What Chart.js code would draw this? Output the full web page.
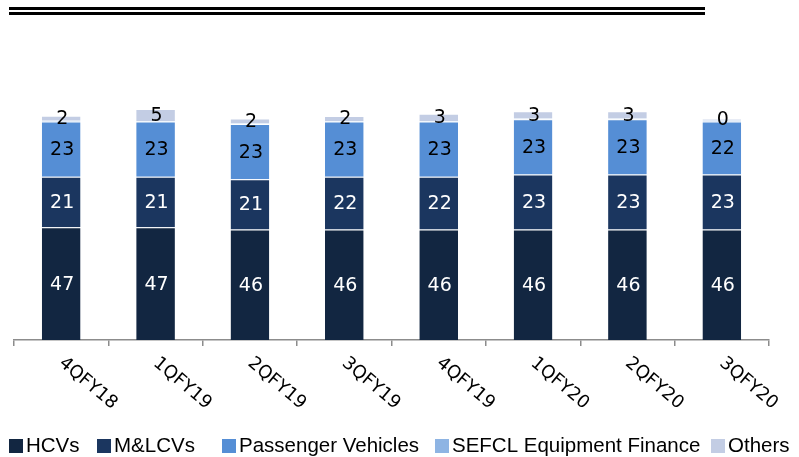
<!DOCTYPE html>
<html>
<head>
<meta charset="utf-8">
<script src="https://cdn.jsdelivr.net/npm/chart.js@4"></script>
<style>
  html, body { margin: 0; padding: 0; background: #fff; }
  #wrap { position: relative; width: 799px; height: 457px; }
  .rule { position: absolute; left: 9px; width: 696px; height: 3px; background: #000; }
</style>
</head>
<body>
<div id="wrap">
  <div class="rule" style="top:7px"></div>
  <div class="rule" style="top:12px"></div>
  <canvas id="chart" width="799" height="457"></canvas>
</div>
<script>
const quarters = ["4QFY18", "1QFY19", "2QFY19", "3QFY19", "4QFY19", "1QFY20", "2QFY20", "3QFY20"];
const hcvs = [47, 47, 46, 46, 46, 46, 46, 46];
const mlcvs = [21, 21, 21, 22, 22, 23, 23, 23];
const passengerVehicles = [23, 23, 23, 23, 23, 23, 23, 22];
const sefclEquipment = [0.4, 0.3, 0.3, 0.3, 0.3, 0.3, 0.3, 0.8];
const others = [2, 5, 2, 2, 3, 3, 3, 0.4];

const colors = ["#122641", "#1b365f", "#558ed5", "#8eb4e3", "#c3cde4"];
const labelColors = ["#ffffff", "#ffffff", "#000000", null, "#000000"];
// legend box left edges, as in the reference
const legendX = [9, 97, 222, 435, 711];

function makeSet(label, data, i) {
  return {
    label: label,
    data: data,
    backgroundColor: colors[i],
    borderColor: "rgba(255,255,255,0.25)",
    borderWidth: { top: 1, left: 0, right: 0, bottom: 0 },
    borderSkipped: false,
    barPercentage: 0.41,
    categoryPercentage: 1.0
  };
}

// segment values written in the middle of each piece
const segmentLabels = {
  id: "segmentLabels",
  afterDatasetsDraw(chart) {
    const ctx = chart.ctx;
    ctx.save();
    ctx.font = "19px 'DejaVu Sans'";
    ctx.textAlign = "center";
    ctx.textBaseline = "middle";
    chart.data.datasets.forEach((ds, i) => {
      if (!labelColors[i]) return;
      const meta = chart.getDatasetMeta(i);
      meta.data.forEach((bar, j) => {
        const y = (bar.y + bar.base) / 2;
        ctx.fillStyle = labelColors[i];
        ctx.fillText(Math.round(ds.data[j]), bar.x + 1, y + 1);
      });
    });
    ctx.restore();
  }
};

// slanted category labels reading downwards
const slantTicks = {
  id: "slantTicks",
  afterDraw(chart) {
    const ctx = chart.ctx;
    const xs = chart.scales.x;
    ctx.save();
    ctx.font = "18px 'DejaVu Sans'";
    ctx.fillStyle = "#000";
    ctx.textAlign = "left";
    ctx.textBaseline = "middle";
    quarters.forEach((q, i) => {
      const x = xs.getPixelForValue(i);
      ctx.save();
      ctx.translate(x, chart.chartArea.bottom + 21);
      ctx.rotate(40 * Math.PI / 180);
      ctx.fillText(q, 0, 0);
      ctx.restore();
    });
    ctx.restore();
  }
};

// legend drawn along the bottom
const bottomLegend = {
  id: "bottomLegend",
  afterDraw(chart) {
    const ctx = chart.ctx;
    ctx.save();
    ctx.font = "20.5px 'Liberation Sans'";
    ctx.textAlign = "left";
    ctx.textBaseline = "middle";
    chart.data.datasets.forEach((ds, i) => {
      const x = legendX[i];
      ctx.fillStyle = colors[i];
      ctx.fillRect(x, 439, 14, 14);
      ctx.fillStyle = "#000";
      ctx.fillText(ds.label, x + 17, 446);
    });
    ctx.restore();
  }
};

new Chart(document.getElementById("chart"), {
  type: "bar",
  data: {
    labels: quarters,
    datasets: [
      makeSet("HCVs", hcvs, 0),
      makeSet("M&LCVs", mlcvs, 1),
      makeSet("Passenger Vehicles", passengerVehicles, 2),
      makeSet("SEFCL Equipment Finance", sefclEquipment, 3),
      makeSet("Others", others, 4)
    ]
  },
  options: {
    responsive: false,
    animation: false,
    events: [],
    layout: {
      padding: { left: 14, right: 30, top: 100, bottom: 0 }
    },
    scales: {
      x: {
        stacked: true,
        offset: true,
        border: { color: "#8c8c8c", width: 1.5 },
        grid: {
          offset: true,
          drawOnChartArea: false,
          drawTicks: true,
          tickLength: 6,
          color: "#8c8c8c",
          lineWidth: 1.5
        },
        ticks: { display: false },
        afterFit(scale) { scale.height = 117; }
      },
      y: {
        stacked: true,
        display: false,
        min: 0,
        max: 100
      }
    },
    plugins: {
      tooltip: { enabled: false },
      legend: { display: false }
    }
  },
  plugins: [segmentLabels, slantTicks, bottomLegend]
});
</script>
</body>
</html>
